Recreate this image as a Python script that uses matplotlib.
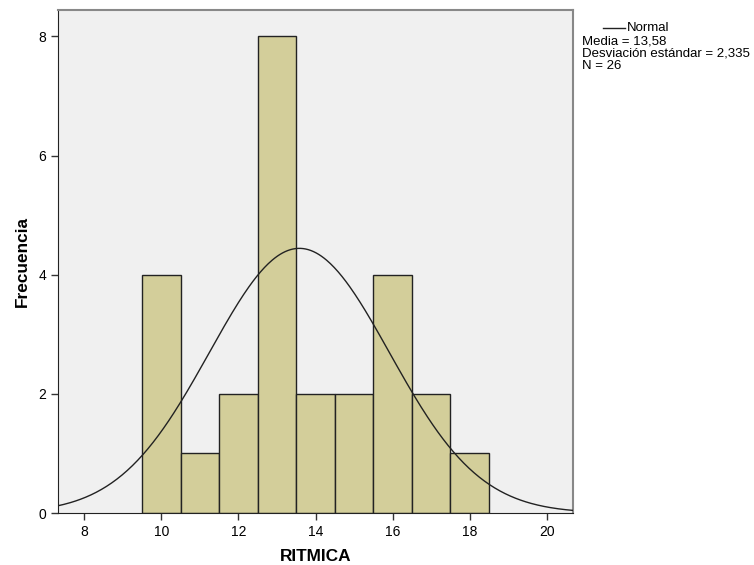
import numpy as np
import matplotlib.pyplot as plt

# histogram of RITMICA (bin centres and counts)
bin_centers = [10, 11, 12, 13, 14, 15, 16, 17, 18]
counts = [4, 1, 2, 8, 2, 2, 4, 2, 1]
media = 13.58
desv = 2.335
n = 26

plt.rcParams['font.family'] = ['Liberation Sans', 'DejaVu Sans']

fig = plt.figure(figsize=(7.54, 5.65), dpi=100)
ax = fig.add_axes([0.077, 0.092, 0.683, 0.890])
ax.set_facecolor('#F0F0F0')

ax.bar(bin_centers, counts, width=1.0, color='#D3CE9A', edgecolor='#222222', linewidth=1.0, zorder=2)

# normal curve scaled to counts
x = np.linspace(7.3, 20.7, 400)
y = n * 1.0 / (desv * np.sqrt(2 * np.pi)) * np.exp(-0.5 * ((x - media) / desv) ** 2)
ax.plot(x, y, color='#222222', linewidth=1.0, zorder=3)

ax.set_xlim(7.32, 20.68)
ax.set_ylim(0, 8.44)
ax.set_xticks([8, 10, 12, 14, 16, 18, 20])
ax.set_yticks([0, 2, 4, 6, 8])
ax.tick_params(labelsize=10, length=5, width=1, color='#333333')
ax.set_xlabel('RITMICA', fontsize=12.4, fontweight='bold', labelpad=7)
ax.set_ylabel('Frecuencia', fontsize=12.4, fontweight='bold', labelpad=6)

for s in ['left', 'bottom']:
    ax.spines[s].set_color('#222222')
for s in ['top', 'right']:
    ax.spines[s].set_color('#888888')
    ax.spines[s].set_linewidth(1.5)

# legend box to the right, SPSS style
fig.add_artist(plt.Line2D([603 / 754, 625 / 754], [1 - 28 / 565, 1 - 28 / 565],
                          color='#222222', linewidth=1.0))
fig.text(627 / 754, 1 - 28 / 565, 'Normal', fontsize=9.5, va='center')
fig.text(582 / 754, 1 - 41 / 565, 'Media = 13,58', fontsize=9.5, va='center')
fig.text(582 / 754, 1 - 54 / 565, 'Desviación estándar = 2,335', fontsize=9.5, va='center')
fig.text(582 / 754, 1 - 66 / 565, 'N = 26', fontsize=9.5, va='center')

fig.savefig('out.png', dpi=100)
